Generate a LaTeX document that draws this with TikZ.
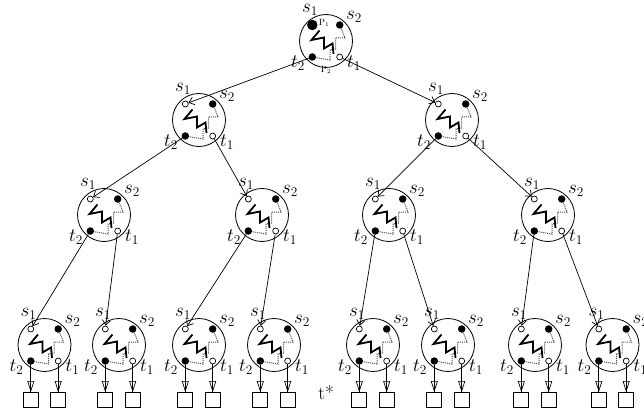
\RequirePackage{fix-cm}
\documentclass[tikz,border=0pt]{standalone}
\usetikzlibrary{arrows.meta}
\tikzset{
  lab/.style={font=\fontsize{19}{22}\selectfont, inner sep=0pt},
  plab/.style={font=\fontsize{9}{10}\selectfont, inner sep=0pt},
  ring/.style={draw, circle, minimum size=53pt, inner sep=0pt, line width=0.8pt},
  fulldot/.style={circle, fill=black, inner sep=0pt, minimum size=7.5pt},
  bigdot/.style={circle, fill=black, inner sep=0pt, minimum size=10.5pt},
  opendot/.style={circle, draw, fill=white, inner sep=0pt, minimum size=6pt, line width=0.7pt},
  ponepath/.style={line width=1.8pt, line join=miter},
  ptwopath/.style={densely dotted, draw=black!70, line width=1pt},
  treearrow/.style={line width=0.7pt, -{Straight Barb[length=5pt,width=8pt]}},
  leafarrow/.style={line width=0.7pt, -{Triangle[open,length=11pt,width=7pt]}},
  leafline/.style={line width=0.7pt},
  leafbox/.style={draw, minimum size=15pt, inner sep=0pt, line width=0.8pt},
  module/.pic={
    \node[ring] (-c) at (0,0) {};
    \draw[ptwopath] (13.7,-16) -- (19,-3) -- (9.5,-3) -- (9.5,8) -- (4,9) -- (4,19) -- (-13.7,16);
    \draw[ponepath] (-6.5,-10.5) -- (-14.5,-1) -- (-2,-3.5) -- (-2,7.5) -- (6.5,2.5) -- (7.5,13);
    \node[#1] (-s1) at (-13.7,-16) {};
    \node[fulldot] (-s2) at (13.7,-16) {};
    \node[fulldot] (-t2) at (-13.7,16) {};
    \node[opendot] (-t1) at (13.7,16) {};
    \node[lab] (-ls1) at (-16,-31) {$s_1$};
    \node[lab] (-ls2) at (28,-24) {$s_2$};
    \node[lab] (-lt2) at (-28,22) {$t_2$};
    \node[lab] (-lt1) at (28,22) {$t_1$};
  }
}
\begin{document}
\begin{tikzpicture}[x=1pt,y=-1pt]
\useasboundingbox (0,0) rectangle (644,414);
% modules
\pic (r) at (326,41) {module=bigdot};
\node[plab] (rp1) at (324,23) {$\mathrm{P}_1$};
\node[plab] (rp2) at (326,70) {$\mathrm{P}_2$};
\pic (a) at (199,120) {module=opendot};
\pic (b) at (452,120) {module=opendot};
\pic (aa) at (104,215) {module=opendot};
\pic (ab) at (262,215) {module=opendot};
\pic (ba) at (389,215) {module=opendot};
\pic (bb) at (548,215) {module=opendot};
\pic (l1) at (44.5,345) {module=opendot};
\pic (l2) at (119,345) {module=opendot};
\pic (l3) at (199,345) {module=opendot};
\pic (l4) at (274,345) {module=opendot};
\pic (l5) at (373,345) {module=opendot};
\pic (l6) at (448,345) {module=opendot};
\pic (l7) at (535,345) {module=opendot};
\pic (l8) at (612.5,345) {module=opendot};
% tree connectors
\draw[treearrow] (r-t2) -- (a-s1);
\draw[treearrow] (r-t1) -- (b-s1);
\draw[treearrow] (a-t2) -- (aa-s1);
\draw[treearrow] (a-t1) -- (ab-s1);
\draw[treearrow] (b-t2) -- (ba-s1);
\draw[treearrow] (b-t1) -- (bb-s1);
\draw[treearrow] (aa-t2) -- (l1-s1);
\draw[treearrow] (aa-t1) -- (l2-s1);
\draw[treearrow] (ab-t2) -- (l3-s1);
\draw[treearrow] (ab-t1) -- (l4-s1);
\draw[treearrow] (ba-t2) -- (l5-s1);
\draw[treearrow] (ba-t1) -- (l6-s1);
\draw[treearrow] (bb-t2) -- (l7-s1);
\draw[treearrow] (bb-t1) -- (l8-s1);
% leaves
\foreach \m in {l1,l2,l3,l4,l5,l6,l7,l8}{
  \foreach \t in {t1,t2}{
    \node[leafbox, anchor=north] (\m-\t-box) at (\m-\t |- 0,392) {};
    \draw[leafline] (\m-\t) -- (\m-\t-box.north);
    \draw[leafarrow] ([yshift=12pt]\m-\t-box.north) -- (\m-\t-box.north);
  }
}
\node[font=\fontsize{19}{22}\selectfont, inner sep=0pt] (tstar) at (326,392) {t*};
\end{tikzpicture}
\end{document}
